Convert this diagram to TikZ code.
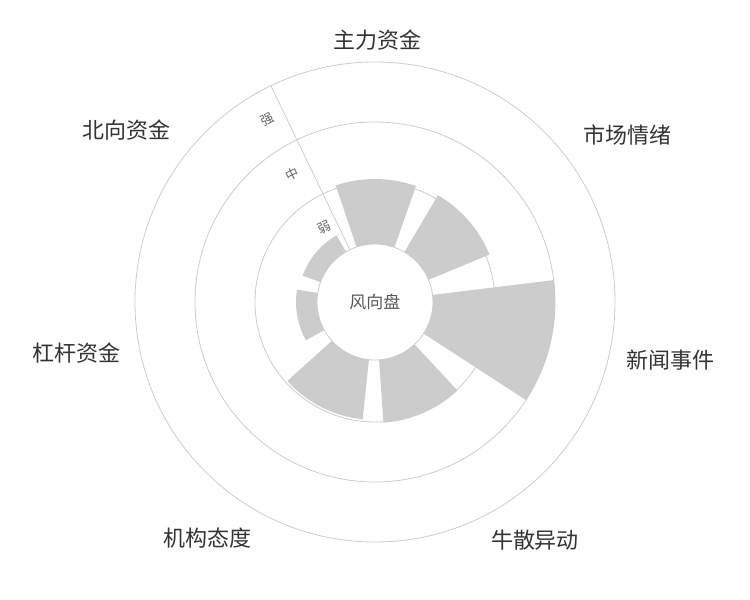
\documentclass[tikz,border=0pt]{standalone}
\usepackage{fontspec}
\newfontfamily\cjk{Noto Sans CJK SC}
\begin{document}
\begin{tikzpicture}[
  ring/.style={draw=black!20, line width=0.8pt},
  bar/.style={fill=black!20},
  cat/.style={font=\cjk\fontsize{22}{24}\selectfont, text=black!80},
  tick/.style={font=\cjk\fontsize{13}{15}\selectfont, text=black!60, rotate=25.7}]
\useasboundingbox (-375pt,-298pt) rectangle (375pt,302pt);
\newcommand{\sector}[3]{\fill[bar] ({90-(#1)}:58pt) arc[start angle={90-(#1)}, end angle={90-(#2)}, radius=58pt] -- ({90-(#2)}:#3pt) arc[start angle={90-(#2)}, end angle={90-(#1)}, radius=#3pt] -- cycle;}
\sector{-18.6}{19.5}{123}
\sector{30.5}{67.5}{124}
\sector{83}{123}{180}
\sector{137}{176}{121}
\sector{186}{228}{118}
\sector{241}{279}{79}
\sector{290}{330}{77}
\draw[ring] (0,0) circle (58pt);
\draw[ring] (0,0) circle (120pt);
\draw[ring] (0,0) circle (180pt);
\draw[ring] (0,0) circle (240pt);
\draw[ring] (115.7:58pt) -- (115.7:240pt);
\node[tick] (t1) at (120.5:212pt) {强};
\node[tick] (t2) at (122.8:152pt) {中};
\node[tick] (t3) at (124.5:90pt) {弱};
\node[font=\cjk\fontsize{17}{19}\selectfont, text=black!65] (c) at (0,0) {风向盘};
\node[cat] (l1) at (3pt,262pt) {主力资金};
\node[cat] (l2) at (252pt,167pt) {市场情绪};
\node[cat] (l3) at (295pt,-58pt) {新闻事件};
\node[cat] (l4) at (160pt,-238pt) {牛散异动};
\node[cat] (l5) at (-167pt,-236pt) {机构态度};
\node[cat] (l6) at (-298pt,-51pt) {杠杆资金};
\node[cat] (l7) at (-248pt,172pt) {北向资金};
\end{tikzpicture}
\end{document}
